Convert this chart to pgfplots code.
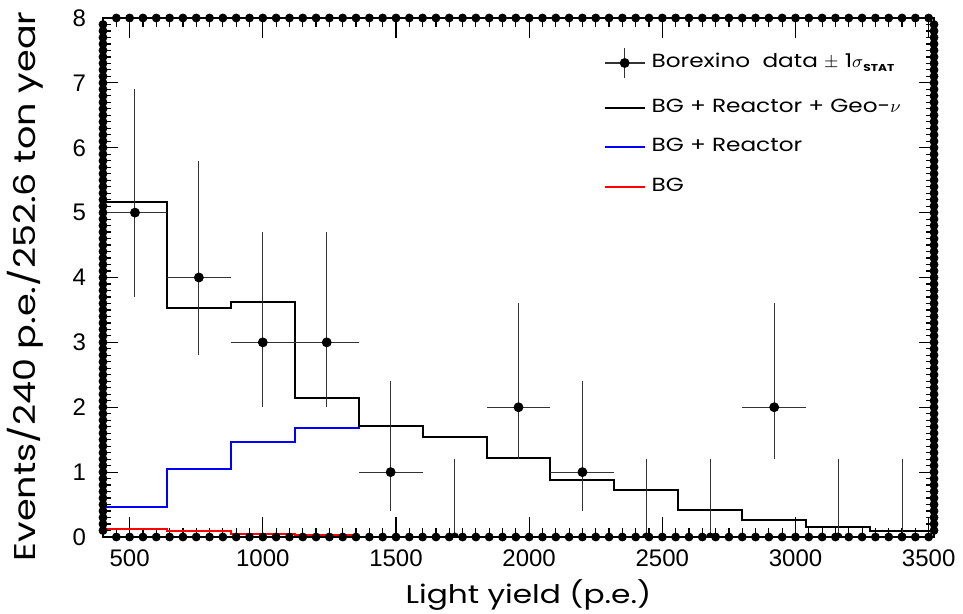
\documentclass[border=0pt]{standalone}
\usepackage{pgfplots}
\pgfplotsset{compat=1.18}
\usepackage{fontspec}
\setmainfont[FakeStretch=1.22]{Poppins}
\newfontfamily\tickfont{Liberation Sans}
\pgfdeclareplotmark{tophalf}{\pgfpathmoveto{\pgfqpoint{\pgfplotmarksize}{0pt}}\pgfpatharc{0}{180}{\pgfplotmarksize}\pgfpathclose\pgfusepathqfill}
\begin{document}
\begin{tikzpicture}
\begin{axis}[
 scale only axis, width=415.5pt, height=259.5pt,
 xmin=400, xmax=3520, ymin=0, ymax=8,
 xtick={500,1000,...,3500}, ytick={0,...,8},
 tick align=inside,
 major tick length=0pt, minor tick length=0pt,
 tick style={draw=none},
 axis line style={draw=black, line width=1pt},
 ticklabel style={font=\tickfont\fontsize{12}{12}\selectfont},
 /pgf/number format/assume math mode=true,
 /pgf/number format/1000 sep={},
 xticklabel shift=3pt, yticklabel shift=5pt,
 clip=false,
 xlabel={Light yield (p.e.)}, ylabel={Events/240 p.e./252.6 ton year},
 xlabel style={font=\fontsize{12.8}{12.8}\selectfont, at={(axis description cs:0.512,-0.112)}, anchor=center},
 ylabel style={font=\fontsize{15}{15}\selectfont, at={(axis description cs:-0.094,0.483)}, anchor=center},
 legend cell align=left,
 legend image code/.code={\draw[#1] (0pt,0pt) -- (20pt,0pt);},
 legend style={at={(axis description cs:0.602,0.80)}, anchor=west, draw=none, fill=none, inner sep=0pt, row sep=10.1pt, font=\fontsize{9.5}{9.5}\selectfont, nodes={text height=7pt, text depth=2.5pt, inner xsep=3pt, inner ysep=0pt}},
]
\addlegendimage{legend image code/.code={\draw[black!80, line width=0.6pt] (0pt,0pt) -- (20pt,0pt); \draw[black!80,line width=0.6pt] (10pt,-7.5pt) -- (10pt,7.5pt); \fill[black] (10pt,0pt) circle (2.25pt);}}
\addlegendentry{Borexino~ data $\pm$ 1$\sigma$\raisebox{-0.4ex}{\fontsize{5}{5}\selectfont\bfseries STAT}}
\addlegendimage{draw=black, line width=1pt}
\addlegendentry{BG + Reactor + Geo-$\nu$}
\addlegendimage{draw=blue, line width=1pt}
\addlegendentry{BG + Reactor}
\addlegendimage{draw=red, line width=1pt}
\addlegendentry{BG}

% inward tick marks, drawn as fixed error bars on the axis frame
\addplot[only marks, mark=none, forget plot, error bars/.cd, y dir=plus, y fixed=0.308, error mark=none, error bar style={draw=black, line width=0.6pt}] coordinates {(500,0)(1000,0)(1500,0)(2000,0)(2500,0)(3000,0)(3500,0)};
\addplot[only marks, mark=none, forget plot, error bars/.cd, y dir=minus, y fixed=0.308, error mark=none, error bar style={draw=black, line width=0.6pt}] coordinates {(500,8)(1000,8)(1500,8)(2000,8)(2500,8)(3000,8)(3500,8)};
\addplot[only marks, mark=none, forget plot, error bars/.cd, y dir=plus, y fixed=0.14, error mark=none, error bar style={draw=black, line width=0.6pt}] coordinates {(450,0)(550,0)(600,0)(650,0)(700,0)(750,0)(800,0)(850,0)(900,0)(950,0)(1050,0)(1100,0)(1150,0)(1200,0)(1250,0)(1300,0)(1350,0)(1400,0)(1450,0)(1550,0)(1600,0)(1650,0)(1700,0)(1750,0)(1800,0)(1850,0)(1900,0)(1950,0)(2050,0)(2100,0)(2150,0)(2200,0)(2250,0)(2300,0)(2350,0)(2400,0)(2450,0)(2550,0)(2600,0)(2650,0)(2700,0)(2750,0)(2800,0)(2850,0)(2900,0)(2950,0)(3050,0)(3100,0)(3150,0)(3200,0)(3250,0)(3300,0)(3350,0)(3400,0)(3450,0)};
\addplot[only marks, mark=none, forget plot, error bars/.cd, y dir=minus, y fixed=0.14, error mark=none, error bar style={draw=black, line width=0.6pt}] coordinates {(450,8)(550,8)(600,8)(650,8)(700,8)(750,8)(800,8)(850,8)(900,8)(950,8)(1050,8)(1100,8)(1150,8)(1200,8)(1250,8)(1300,8)(1350,8)(1400,8)(1450,8)(1550,8)(1600,8)(1650,8)(1700,8)(1750,8)(1800,8)(1850,8)(1900,8)(1950,8)(2050,8)(2100,8)(2150,8)(2200,8)(2250,8)(2300,8)(2350,8)(2400,8)(2450,8)(2550,8)(2600,8)(2650,8)(2700,8)(2750,8)(2800,8)(2850,8)(2900,8)(2950,8)(3050,8)(3100,8)(3150,8)(3200,8)(3250,8)(3300,8)(3350,8)(3400,8)(3450,8)};
\addplot[only marks, mark=none, forget plot, error bars/.cd, x dir=plus, x fixed=56, error mark=none, error bar style={draw=black, line width=0.6pt}] coordinates {(400,1)(400,2)(400,3)(400,4)(400,5)(400,6)(400,7)};
\addplot[only marks, mark=none, forget plot, error bars/.cd, x dir=minus, x fixed=56, error mark=none, error bar style={draw=black, line width=0.6pt}] coordinates {(3520,1)(3520,2)(3520,3)(3520,4)(3520,5)(3520,6)(3520,7)};
\addplot[only marks, mark=none, forget plot, error bars/.cd, x dir=plus, x fixed=30, error mark=none, error bar style={draw=black, line width=0.6pt}] coordinates {(400,0.1)(400,0.2)(400,0.3)(400,0.4)(400,0.5)(400,0.6)(400,0.7)(400,0.8)(400,0.9)(400,1.1)(400,1.2)(400,1.3)(400,1.4)(400,1.5)(400,1.6)(400,1.7)(400,1.8)(400,1.9)(400,2.1)(400,2.2)(400,2.3)(400,2.4)(400,2.5)(400,2.6)(400,2.7)(400,2.8)(400,2.9)(400,3.1)(400,3.2)(400,3.3)(400,3.4)(400,3.5)(400,3.6)(400,3.7)(400,3.8)(400,3.9)(400,4.1)(400,4.2)(400,4.3)(400,4.4)(400,4.5)(400,4.6)(400,4.7)(400,4.8)(400,4.9)(400,5.1)(400,5.2)(400,5.3)(400,5.4)(400,5.5)(400,5.6)(400,5.7)(400,5.8)(400,5.9)(400,6.1)(400,6.2)(400,6.3)(400,6.4)(400,6.5)(400,6.6)(400,6.7)(400,6.8)(400,6.9)(400,7.1)(400,7.2)(400,7.3)(400,7.4)(400,7.5)(400,7.6)(400,7.7)(400,7.8)(400,7.9)};
\addplot[only marks, mark=none, forget plot, error bars/.cd, x dir=minus, x fixed=30, error mark=none, error bar style={draw=black, line width=0.6pt}] coordinates {(3520,0.1)(3520,0.2)(3520,0.3)(3520,0.4)(3520,0.5)(3520,0.6)(3520,0.7)(3520,0.8)(3520,0.9)(3520,1.1)(3520,1.2)(3520,1.3)(3520,1.4)(3520,1.5)(3520,1.6)(3520,1.7)(3520,1.8)(3520,1.9)(3520,2.1)(3520,2.2)(3520,2.3)(3520,2.4)(3520,2.5)(3520,2.6)(3520,2.7)(3520,2.8)(3520,2.9)(3520,3.1)(3520,3.2)(3520,3.3)(3520,3.4)(3520,3.5)(3520,3.6)(3520,3.7)(3520,3.8)(3520,3.9)(3520,4.1)(3520,4.2)(3520,4.3)(3520,4.4)(3520,4.5)(3520,4.6)(3520,4.7)(3520,4.8)(3520,4.9)(3520,5.1)(3520,5.2)(3520,5.3)(3520,5.4)(3520,5.5)(3520,5.6)(3520,5.7)(3520,5.8)(3520,5.9)(3520,6.1)(3520,6.2)(3520,6.3)(3520,6.4)(3520,6.5)(3520,6.6)(3520,6.7)(3520,6.8)(3520,6.9)(3520,7.1)(3520,7.2)(3520,7.3)(3520,7.4)(3520,7.5)(3520,7.6)(3520,7.7)(3520,7.8)(3520,7.9)};

\addplot[red, line width=1pt, const plot, forget plot] coordinates {(400,0.13)(640,0.10)(880,0.05)(1120,0.03)(1360,0.03)};
\addplot[blue, line width=1pt, const plot, forget plot] coordinates {(400,0.47)(640,1.05)(880,1.47)(1120,1.68)(1360,1.71)(1600,1.54)(1840,1.22)(2080,0.88)(2320,0.72)(2560,0.42)(2800,0.26)(3040,0.15)(3280,0.09)(3520,0.09)};
\addplot[black, line width=1pt, const plot, forget plot] coordinates {(400,5.17)(640,3.53)(880,3.63)(1120,2.14)(1360,1.71)(1600,1.54)(1840,1.22)(2080,0.88)(2320,0.72)(2560,0.42)(2800,0.26)(3040,0.15)(3280,0.09)(3520,0.09)};

\addplot[only marks, mark=*, mark size=2.25pt, black, forget plot,
 error bars/.cd, x dir=both, x explicit, y dir=both, y explicit, error mark=none,
 error bar style={line width=0.5pt, black!80}]
 table[x=x, y=y, x error=ex, y error plus=ep, y error minus=em] {
x y ex ep em
520 5 120 1.9 1.3
760 4 120 1.8 1.2
1000 3 120 1.7 1.0
1240 3 120 1.7 1.0
1480 1 120 1.4 0.6
1960 2 120 1.6 0.8
2200 1 120 1.4 0.6
2920 2 120 1.6 0.8
};
\addplot[only marks, mark=tophalf, mark size=2.25pt, black, forget plot,
 error bars/.cd, y dir=plus, y explicit, error mark=none,
 error bar style={line width=0.5pt, black!80}]
 table[x=x, y=y, y error plus=ep] {
x y ep
1720 0 1.2
2440 0 1.2
2680 0 1.2
3160 0 1.2
3400 0 1.2
};
\end{axis}
\pgfresetboundingbox
\path[use as bounding box] (-51.5pt,-38.5pt) rectangle (430pt,268.5pt);
\end{tikzpicture}
\end{document}
